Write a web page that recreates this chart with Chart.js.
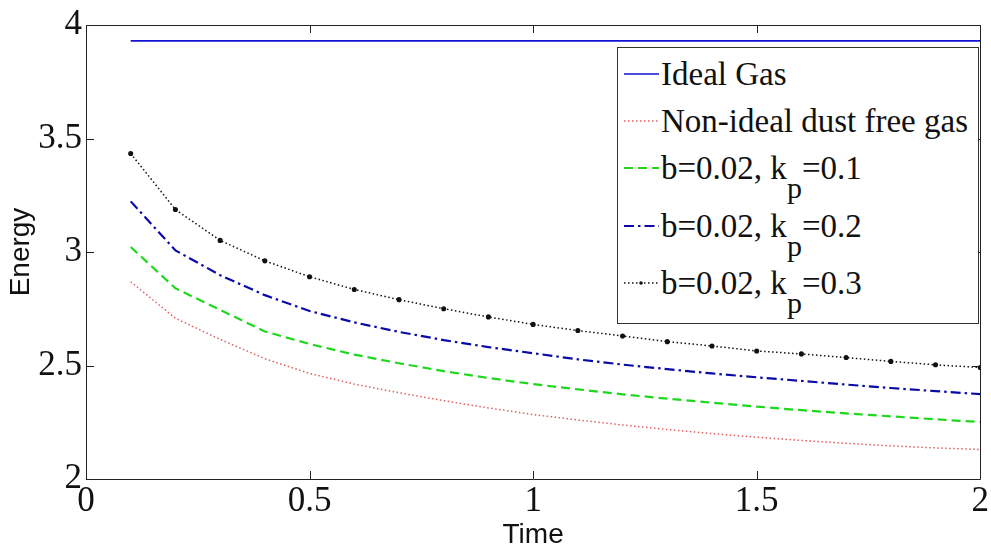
<!DOCTYPE html>
<html><head><meta charset="utf-8">
<script src="https://cdn.jsdelivr.net/npm/chart.js@4.4.1/dist/chart.umd.min.js"></script>
<style>
html,body{margin:0;padding:0;background:#fff;}
#wrap{position:relative;width:991px;height:549px;}
#legend{position:absolute;left:617px;top:47px;width:362px;height:277px;border:1px solid #333;background:#fff;font-family:'Liberation Serif','Times New Roman',serif;font-size:33px;color:#111;box-sizing:border-box;}
.row{position:absolute;left:5px;height:40px;display:flex;align-items:center;white-space:nowrap;}
.row svg{width:37px;height:10px;margin-right:1px;flex:none;}
.row .sub{position:relative;top:19px;font-size:30px;}
</style></head><body>
<div id="wrap"><canvas id="c" width="991" height="549"></canvas><div id="legend"></div></div>
<script>
const timeValues = [0.1,0.2,0.3,0.4,0.5,0.6,0.7,0.8,0.9,1.0,1.1,1.2,1.3,1.4,1.5,1.6,1.7,1.8,1.9,2.0];
const idealGas   = [3.93,3.93,3.93,3.93,3.93,3.93,3.93,3.93,3.93,3.93,3.93,3.93,3.93,3.93,3.93,3.93,3.93,3.93,3.93,3.93];
const dustFree   = [2.869,2.708,2.615,2.530,2.465,2.418,2.380,2.345,2.313,2.284,2.260,2.238,2.218,2.200,2.184,2.170,2.157,2.146,2.137,2.130];
const kp01       = [3.022,2.840,2.745,2.650,2.595,2.548,2.510,2.475,2.445,2.418,2.395,2.373,2.354,2.336,2.319,2.303,2.289,2.276,2.263,2.251];
const kp02       = [3.223,3.007,2.898,2.810,2.740,2.690,2.648,2.612,2.581,2.554,2.527,2.504,2.484,2.465,2.448,2.432,2.416,2.401,2.387,2.374];
const kp03       = [3.434,3.187,3.051,2.961,2.891,2.835,2.790,2.750,2.714,2.681,2.654,2.630,2.605,2.586,2.564,2.551,2.535,2.518,2.503,2.491];
const seriesLabels = ['Ideal Gas','Non-ideal dust free gas','b=0.02, k_p=0.1','b=0.02, k_p=0.2','b=0.02, k_p=0.3'];
const xTickLabels = ['0','0.5','1','1.5','2'];
const yTickLabels = ['2','2.5','3','3.5','4'];
const xAxisTitle = 'Time';
const yAxisTitle = 'Energy';

const styles = [
  {color:'#1212d2', width:1.6, dash:[], point:0},
  {color:'#e06060', width:1.5, dash:[1.5,2.5], point:0},
  {color:'#1ed81e', width:2.2, dash:[9,5], point:0},
  {color:'#0a0aa8', width:2.2, dash:[10,4,2.5,4], point:0},
  {color:'#111111', width:1.5, dash:[1.5,2.5], point:1.8}
];
const seriesData = [idealGas, dustFree, kp01, kp02, kp03];

const datasets = seriesData.map((arr,i)=>({
  label: seriesLabels[i],
  data: timeValues.map((t,j)=>({x:t, y:arr[j]})),
  borderColor: styles[i].color,
  backgroundColor: styles[i].color,
  borderWidth: styles[i].width,
  borderDash: styles[i].dash,
  pointRadius: styles[i].point,
  pointStyle: 'circle',
  fill: false,
  tension: 0
}));

const frameTicks = {
  id:'frameTicks',
  afterDraw(chart){
    const {ctx, chartArea:a, scales:{x,y}} = chart;
    ctx.save();
    ctx.strokeStyle = '#222';
    ctx.lineWidth = 1;
    ctx.beginPath();
    ctx.rect(Math.round(a.left)+0.5, Math.round(a.top)+0.5, Math.round(a.right-a.left), Math.round(a.bottom-a.top));
    ctx.stroke();
    const L = 8;
    ctx.beginPath();
    x.ticks.forEach(t=>{
      const px = Math.round(x.getPixelForValue(t.value))+0.5;
      ctx.moveTo(px, a.bottom); ctx.lineTo(px, a.bottom-L);
      ctx.moveTo(px, a.top); ctx.lineTo(px, a.top+L);
    });
    y.ticks.forEach(t=>{
      const py = Math.round(y.getPixelForValue(t.value))+0.5;
      ctx.moveTo(a.left, py); ctx.lineTo(a.left+L, py);
      ctx.moveTo(a.right, py); ctx.lineTo(a.right-L, py);
    });
    ctx.stroke();
    ctx.restore();
  }
};

const sans = "'Liberation Sans',Arial,sans-serif";
const serif = "'Liberation Serif','Times New Roman',serif";

new Chart(document.getElementById('c'), {
  type:'line',
  data:{datasets},
  options:{
    responsive:false,
    animation:false,
    devicePixelRatio:1,
    layout:{padding:{top:21,right:8,left:0,bottom:0}},
    plugins:{legend:{display:false}, tooltip:{enabled:false}},
    scales:{
      x:{
        type:'linear', min:0, max:2,
        afterFit(s){ s.height = 70; },
        ticks:{stepSize:0.5, color:'#111', padding:2, maxRotation:0,
          font:{family:serif, size:35},
          callback:(v)=>xTickLabels[Math.round(v/0.5)]},
        grid:{display:false, drawTicks:false},
        border:{display:false},
        title:{display:true, text:xAxisTitle, color:'#111',
          font:{family:sans, size:28, lineHeight:1}, padding:{top:0,bottom:0}}
      },
      y:{
        type:'linear', min:2, max:4,
        afterFit(s){ s.width = 86; },
        ticks:{stepSize:0.5, color:'#111', padding:4,
          font:{family:serif, size:35},
          callback:(v)=>yTickLabels[Math.round((v-2)/0.5)]},
        grid:{display:false, drawTicks:false},
        border:{display:false},
        title:{display:true, text:yAxisTitle, color:'#111',
          font:{family:sans, size:28, lineHeight:1}, padding:{top:7,bottom:0}}
      }
    }
  },
  plugins:[frameTicks]
});

// legend overlay (real text)
const legendRowsTop = [26,73,120,178,235];
const leg = document.getElementById('legend');
seriesLabels.forEach((lab,i)=>{
  const row = document.createElement('div');
  row.className='row';
  row.style.top = (legendRowsTop[i]-20)+'px';
  const st = styles[i];
  const svg = `<svg viewBox="0 0 37 10"><line x1="1" y1="5" x2="36" y2="5" stroke="${st.color}" stroke-width="${st.width}" stroke-dasharray="${st.dash.join(' ')}"/>${st.point?`<circle cx="18" cy="5" r="${st.point}" fill="${st.color}"/>`:''}</svg>`;
  let html = lab.replace(/k_p/, 'k<span class="sub">p</span>');
  row.innerHTML = svg + '<span>'+html+'</span>';
  leg.appendChild(row);
});
</script>
</body></html>
